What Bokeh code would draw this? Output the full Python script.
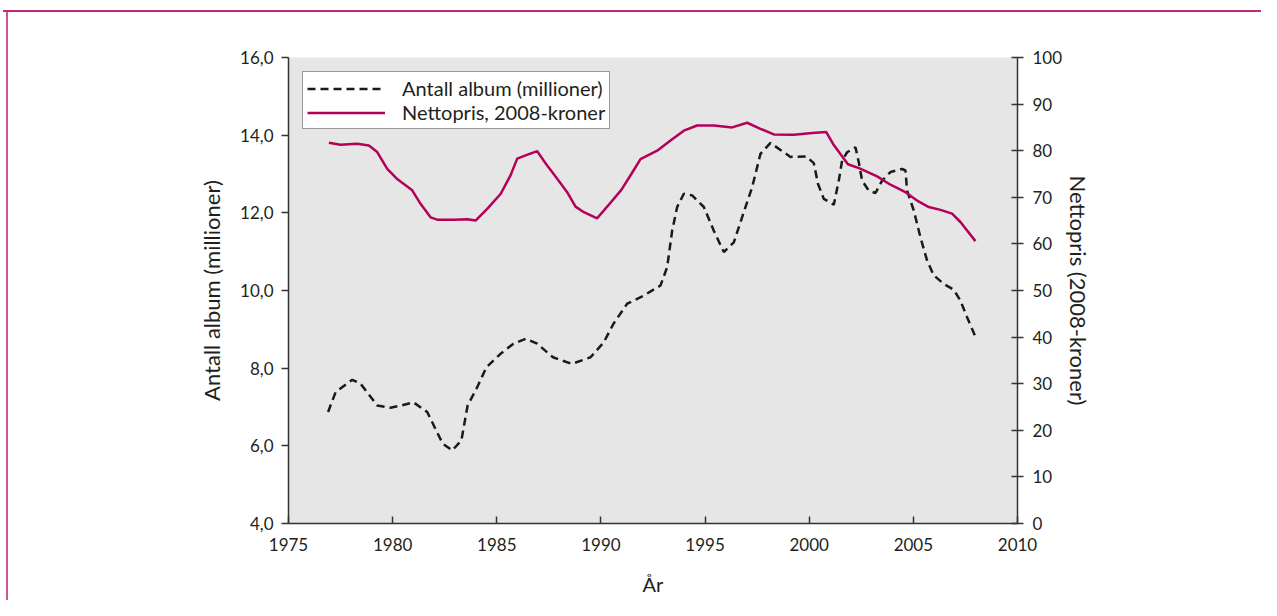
from bokeh.plotting import figure
from bokeh.models import (Range1d, LinearAxis, FixedTicker, CustomJSTickFormatter,
                          Legend, LegendItem)
from bokeh.embed import file_html
from bokeh.resources import INLINE

# ---- data ----
album_years = [1976.9, 1977.26, 1978.06, 1978.46, 1979.26, 1979.9, 1980.5, 1981.0, 1981.66,
               1982.4, 1982.86, 1983.3, 1983.6, 1984.06, 1984.5, 1985.18, 1985.8, 1986.4,
               1986.94, 1987.7, 1988.6, 1989.5, 1990.14, 1990.6, 1991.26, 1992.06, 1992.86,
               1993.18, 1993.42, 1993.66, 1993.98, 1994.38, 1994.94, 1995.42, 1995.9, 1996.38,
               1996.78, 1997.26, 1997.66, 1998.14, 1998.62, 1999.1, 1999.86, 2000.22, 2000.42,
               2000.7, 2001.18, 2001.42, 2001.58, 2001.82, 2002.22, 2002.38, 2002.54, 2002.86,
               2003.18, 2003.5, 2003.9, 2004.46, 2004.62, 2004.7, 2005.02, 2005.34, 2005.66,
               2005.98, 2006.46, 2006.94, 2007.26, 2007.58, 2007.98]
album_values = [6.87, 7.38, 7.70, 7.60, 7.04, 6.98, 7.05, 7.12, 6.87,
                6.06, 5.88, 6.14, 7.04, 7.51, 8.02, 8.37, 8.63, 8.76,
                8.63, 8.28, 8.11, 8.28, 8.67, 9.14, 9.66, 9.87, 10.13,
                10.60, 11.54, 12.15, 12.49, 12.45, 12.15, 11.54, 10.99, 11.24,
                11.89, 12.66, 13.52, 13.80, 13.62, 13.44, 13.45, 13.28, 12.75,
                12.36, 12.21, 12.83, 13.35, 13.56, 13.69, 13.30, 12.83, 12.57,
                12.51, 12.83, 13.05, 13.13, 13.09, 12.57, 12.06, 11.37, 10.77,
                10.39, 10.17, 10.02, 9.74, 9.31, 8.81]

price_years = [1976.94, 1977.5, 1978.3, 1978.86, 1979.26, 1979.74, 1980.2, 1980.94, 1981.34,
               1981.82, 1982.14, 1982.94, 1983.58, 1983.98, 1984.54, 1985.18, 1985.66, 1985.98,
               1986.38, 1986.94, 1987.42, 1987.9, 1988.38, 1988.78, 1989.18, 1989.82, 1990.34,
               1990.98, 1991.46, 1991.9, 1992.7, 1993.34, 1993.98, 1994.62, 1995.42, 1996.3,
               1997.02, 1997.66, 1998.3, 1999.26, 2000.14, 2000.82, 2001.18, 2001.86, 2002.42,
               2003.26, 2003.9, 2004.62, 2005.18, 2005.74, 2006.3, 2006.86, 2007.26, 2007.98]
price_values = [81.7, 81.3, 81.5, 81.1, 79.7, 76.1, 74.0, 71.5, 68.6,
                65.7, 65.2, 65.2, 65.3, 65.0, 67.5, 70.7, 74.7, 78.3,
                79.0, 79.9, 76.8, 74.0, 71.1, 68.0, 66.8, 65.5, 68.2,
                71.6, 75.0, 78.2, 80.0, 82.2, 84.3, 85.4, 85.4, 85.0,
                86.0, 84.7, 83.5, 83.4, 83.8, 84.0, 81.2, 77.1, 76.2,
                74.5, 72.7, 71.1, 69.3, 67.9, 67.3, 66.5, 64.7, 60.6]

x_ticks = [1975, 1980, 1985, 1990, 1995, 2000, 2005, 2010]
left_ticks = [4, 6, 8, 10, 12, 14, 16]
right_ticks = [0, 10, 20, 30, 40, 50, 60, 70, 80, 90, 100]

label_album = "Antall album (millioner)"
label_price = "Nettopris, 2008-kroner"
y_title_left = "Antall album (millioner)"
y_title_right = "Nettopris (2008-kroner)"
x_title = "År"

FONT = "Lato"
TXT = "#231f20"
AX = "#333333"
MAGENTA = "#b5005a"

p = figure(width=1261, height=600, output_backend="svg", toolbar_location=None,
           x_range=Range1d(1975, 2010), y_range=Range1d(4, 16),
           min_border_left=288, min_border_right=244, min_border_top=57, min_border_bottom=77)
# pink frame lines of the original page (top and left edge)
p.styles = {
    "background": ("linear-gradient(#c0287a,#c0287a) 3px 10px / calc(100% - 3px) 2px no-repeat, "
                   "linear-gradient(#cc5594,#cc5594) 6px 10px / 2px calc(100% - 10px) no-repeat, "
                   "white"),
}
p.background_fill_color = "#e6e6e6"
p.border_fill_color = None
p.outline_line_color = None
p.grid.visible = False

p.extra_y_ranges = {"price": Range1d(0, 100)}

r1 = p.line(album_years, album_values, line_color="#1a1a1a", line_width=2.5, line_dash="8 5")
r2 = p.line(price_years, price_values, line_color=MAGENTA, line_width=2.5, y_range_name="price")

# x axis
xa = p.xaxis[0]
xa.ticker = FixedTicker(ticks=x_ticks)
xa.axis_label = x_title
xa.major_tick_in = 7
xa.major_tick_out = 0
xa.minor_tick_line_color = None
xa.major_label_standoff = 14
xa.axis_label_standoff = 18

# left axis
ya = p.yaxis[0]
ya.ticker = FixedTicker(ticks=left_ticks)
ya.formatter = CustomJSTickFormatter(code="return tick.toFixed(1).replace('.', ',');")
ya.axis_label = y_title_left
ya.major_tick_in = 0
ya.major_tick_out = 7
ya.minor_tick_line_color = None
ya.major_label_standoff = 8
ya.axis_label_standoff = 12

# right axis
ra = LinearAxis(y_range_name="price", ticker=FixedTicker(ticks=right_ticks),
                axis_label=y_title_right)
ra.major_tick_in = 6
ra.major_tick_out = 6
ra.minor_tick_line_color = None
ra.major_label_standoff = 9
ra.axis_label_standoff = 0
p.add_layout(ra, "right")

for ax in [xa, ya, ra]:
    ax.axis_line_color = AX
    ax.axis_line_width = 1.5
    ax.major_tick_line_color = AX
    ax.major_tick_line_width = 1.5
    ax.major_label_text_font = FONT
    ax.major_label_text_font_size = "17px"
    ax.major_label_text_color = TXT
    ax.axis_label_text_font = FONT
    ax.axis_label_text_font_size = "22px"
    ax.axis_label_text_font_style = "normal"
    ax.axis_label_text_color = TXT
xa.axis_label_text_font_size = "20px"

legend = Legend(items=[LegendItem(label=label_album, renderers=[r1]),
                       LegendItem(label=label_price, renderers=[r2])],
                location="top_left")
legend.margin = 14
legend.padding = 4
legend.spacing = 0
legend.glyph_width = 78
legend.glyph_height = 21
legend.label_height = 21
legend.label_standoff = 17
legend.label_text_font = FONT
legend.label_text_font_size = "20px"
legend.label_text_color = TXT
legend.border_line_color = "#333333"
legend.border_line_width = 1
legend.background_fill_color = "white"
legend.background_fill_alpha = 1
p.add_layout(legend)

open("out.html", "w").write(file_html(p, INLINE))
